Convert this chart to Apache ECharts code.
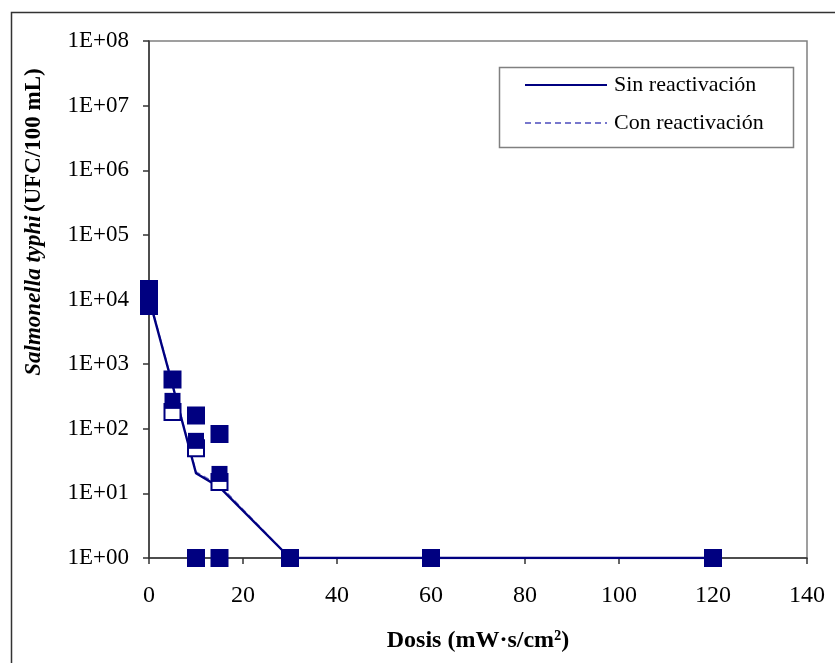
<!DOCTYPE html>
<html>
<head>
<meta charset="utf-8">
<script src="https://cdn.jsdelivr.net/npm/echarts@6/dist/echarts.min.js"></script>
<style>
  html, body { margin: 0; padding: 0; background: #fff; }
  #chart { width: 835px; height: 663px; }
</style>
</head>
<body>
<div id="chart"></div>
<script>
// dosis (mW·s/cm2) en el eje X
var dosis = [0, 5, 10, 15, 30, 60, 120];
// curvas (medias) de cada tratamiento
var sinLinea = [10500, 475, 20.5, 12.5, 1, 1, 1];
var conLinea = [11000, 500, 21.5, 13.5, 1, 1, 1];
// puntos medidos: [dosis, UFC/100 mL]
var sinPuntos = [
  [0, 14600], [0, 7950],
  [5, 580], [5, 270],
  [10, 161], [10, 65], [10, 1],
  [15, 83], [15, 20], [15, 1],
  [30, 1], [60, 1], [120, 1]
];
var conPuntos = [
  [0, 14600], [0, 7950],
  [5, 580], [5, 182],
  [10, 161], [10, 50], [10, 1],
  [15, 83], [15, 15], [15, 1],
  [30, 1], [60, 1], [120, 1]
];
var xTicks = { min: 0, max: 140, interval: 20 };
var yTicks = { min: 1, max: 1e8 };

var serif = '"Liberation Serif", "Times New Roman", serif';
var myChart = echarts.init(document.getElementById('chart'));

function pares(xs, ys) {
  return xs.map(function (x, i) { return [x, ys[i]]; });
}

var option = {
  backgroundColor: '#fff',
  animation: false,
  grid: {
    left: 149, right: 28, top: 41, bottom: 105,
    show: true, borderColor: '#808080', borderWidth: 1.5
  },
  legend: {
    data: ['Sin reactivación', 'Con reactivación'],
    orient: 'vertical',
    left: 524, top: 74,
    padding: 0,
    itemWidth: 82, itemHeight: 14, itemGap: 16,
    itemStyle: { opacity: 0 },
    textStyle: { fontFamily: serif, fontSize: 22, color: '#000', padding: [0, 0, 0, 2] }
  },
  xAxis: {
    type: 'value',
    min: xTicks.min, max: xTicks.max, interval: xTicks.interval,
    axisLine: { lineStyle: { color: '#333', width: 1.5 } },
    axisTick: { show: true, inside: false, length: 6, lineStyle: { color: '#333', width: 1.5 } },
    axisLabel: { fontFamily: serif, fontSize: 24, color: '#000', margin: 26 },
    splitLine: { show: false }
  },
  yAxis: {
    type: 'log', logBase: 10,
    min: yTicks.min, max: yTicks.max, splitNumber: 8,
    axisLine: { lineStyle: { color: '#333', width: 1.5 } },
    axisTick: { show: true, inside: false, length: 6, lineStyle: { color: '#333', width: 1.5 } },
    axisLabel: {
      fontFamily: serif, fontSize: 23, color: '#000', margin: 20,
      formatter: function (v) {
        var e = Math.round(Math.log10(v));
        return '1E+' + (e < 10 ? '0' : '') + e;
      }
    },
    splitLine: { show: false },
    minorTick: { show: false }
  },
  series: [
    {
      name: 'Con reactivación', type: 'line', data: pares(dosis, conLinea),
      symbol: 'none', z: 2,
      lineStyle: { color: '#7777cc', width: 1.4, type: [6, 4] },
      itemStyle: { color: '#7777cc' }
    },
    {
      name: 'Sin reactivación', type: 'line', data: pares(dosis, sinLinea),
      symbol: 'none', z: 3,
      lineStyle: { color: '#000080', width: 2.4 },
      itemStyle: { color: '#000080' }
    },
    {
      name: 'con puntos', type: 'scatter', data: conPuntos, clip: false, z: 4,
      symbol: 'rect', symbolSize: 16,
      itemStyle: { color: '#fff', borderColor: '#000080', borderWidth: 2, opacity: 1 }
    },
    {
      name: 'sin puntos', type: 'scatter', data: sinPuntos, clip: false, z: 5,
      symbol: 'rect', symbolSize: 16,
      itemStyle: { color: '#000080', opacity: 1 }
    }
  ],
  graphic: [
    { // marco exterior
      type: 'rect', left: 9, top: 10, silent: true,
      shape: { width: 900, height: 700 },
      style: { fill: 'none', stroke: '#333', lineWidth: 1.5 }
    },
    { // caja de la leyenda
      type: 'rect', left: 497, top: 65, silent: true,
      shape: { width: 294, height: 80 },
      style: { fill: 'none', stroke: '#808080', lineWidth: 1.5 }
    },
    { // título eje Y
      type: 'text', x: 34, y: 222, rotation: Math.PI / 2, silent: true,
      style: {
        text: '{i|Salmonella typhi} {b|(UFC/100 mL)}',
        align: 'center', verticalAlign: 'middle',
        rich: {
          i: { fontFamily: serif, fontSize: 23, fontStyle: 'italic', fontWeight: 'bold', fill: '#000' },
          b: { fontFamily: serif, fontSize: 23, fontWeight: 'bold', fill: '#000' }
        }
      }
    },
    { // título eje X
      type: 'text', x: 478, y: 641, silent: true,
      style: {
        text: 'Dosis (mW·s/cm²)',
        font: 'bold 24px ' + serif, fill: '#000',
        align: 'center', verticalAlign: 'middle'
      }
    }
  ]
};

myChart.setOption(option);
</script>
</body>
</html>
